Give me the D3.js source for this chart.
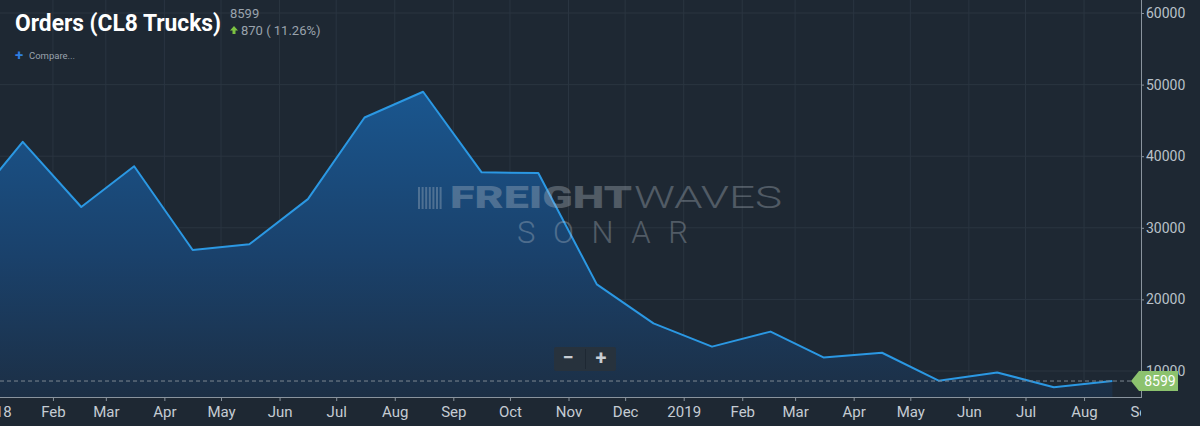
<!DOCTYPE html>
<html>
<head>
<meta charset="utf-8">
<script src="https://cdn.jsdelivr.net/npm/d3@7"></script>
<style>
  html, body { margin: 0; padding: 0; background: #1e2833; }
  svg { display: block; }
  text { font-family: Roboto, "Liberation Sans", Arial, sans-serif; }
</style>
</head>
<body>
<svg id="chart" width="1200" height="426"></svg>
<script>
// ---- data ----
const months = ["2017-12","2018-01","2018-02","2018-03","2018-04","2018-05","2018-06","2018-07","2018-08","2018-09","2018-10","2018-11","2018-12","2019-01","2019-02","2019-03","2019-04","2019-05","2019-06","2019-07","2019-08"];
const orders = [32000, 42000, 32900, 38600, 26900, 27700, 34000, 45400, 49000, 37750, 37650, 22100, 16650, 13400, 15500, 11900, 12550, 8650, 9800, 7729, 8599];
const yTicks = [10000, 20000, 30000, 40000, 50000, 60000];
const titleText = "Orders (CL8 Trucks)";
const lastValue = 8599;
const changeText = "870 ( 11.26%)";

// ---- layout ----
const W = 1200, H = 426;
const plotRight = 1141, plotBottom = 397;
const svg = d3.select("#chart");

const parse = d3.timeParse("%Y-%m-%d");
const data = months.map((m, i) => ({ date: parse(m + "-16"), value: orders[i] }));

const x = d3.scaleTime()
  .domain([new Date(2018, 0, 1), new Date(2019, 8, 1)])
  .range([-5.6, 1142.6]);
const y = d3.scaleLinear().domain([0, 60000]).range([442.6, 13]);

const defs = svg.append("defs");
defs.append("clipPath").attr("id", "plotClip")
  .append("rect").attr("x", 0).attr("y", 0).attr("width", plotRight).attr("height", plotBottom);
defs.append("clipPath").attr("id", "axisClip")
  .append("rect").attr("x", 0).attr("y", plotBottom).attr("width", plotRight).attr("height", H - plotBottom);
const grad = defs.append("linearGradient").attr("id", "areaGrad")
  .attr("gradientUnits", "userSpaceOnUse").attr("x1", 0).attr("y1", y(50000)).attr("x2", 0).attr("y2", plotBottom);
grad.append("stop").attr("offset", "0%").attr("stop-color", "#1a5790");
grad.append("stop").attr("offset", "55%").attr("stop-color", "#1a416b");
grad.append("stop").attr("offset", "100%").attr("stop-color", "#1c2f45");

svg.append("rect").attr("width", W).attr("height", H).attr("fill", "#1e2833");

const plot = svg.append("g").attr("clip-path", "url(#plotClip)");

// gridlines
const monthTicks = d3.timeMonth.range(new Date(2018, 0, 1), new Date(2019, 8, 2));
plot.append("g").selectAll("line").data(monthTicks).join("line")
  .attr("x1", d => x(d)).attr("x2", d => x(d))
  .attr("y1", 0).attr("y2", plotBottom)
  .attr("stroke", "#2a3541").attr("stroke-width", 1);
plot.append("g").selectAll("line").data(yTicks).join("line")
  .attr("x1", 0).attr("x2", plotRight)
  .attr("y1", d => y(d)).attr("y2", d => y(d))
  .attr("stroke", "#2a3541").attr("stroke-width", 1);

// area + line
const area = d3.area().x(d => x(d.date)).y0(plotBottom).y1(d => y(d.value));
const line = d3.line().x(d => x(d.date)).y(d => y(d.value));
plot.append("path").datum(data).attr("d", area).attr("fill", "url(#areaGrad)");

// watermark
const wm = svg.append("g").attr("opacity", 0.33);
const iconX = 418, iconY = 187;
for (let i = 0; i < 7; i++) {
  wm.append("rect").attr("x", iconX + i * 3.6).attr("y", iconY).attr("width", 2).attr("height", 22).attr("fill", "#b9c2cc");
}
wm.append("text").attr("x", 450).attr("y", 208)
  .attr("font-size", 31).attr("font-weight", 900).attr("fill", "#b9c2cc")
  .attr("textLength", 182).attr("lengthAdjust", "spacingAndGlyphs")
  .text("FREIGHT");
wm.append("text").attr("x", 634).attr("y", 208)
  .attr("font-size", 31).attr("font-weight", 300).attr("fill", "#b9c2cc")
  .attr("textLength", 148).attr("lengthAdjust", "spacingAndGlyphs")
  .text("WAVES");
wm.append("text").attr("x", 517).attr("y", 243)
  .attr("font-size", 31).attr("font-weight", 300).attr("fill", "#b9c2cc")
  .attr("textLength", 171).attr("lengthAdjust", "spacing")
  .text("SONAR");

plot.append("path").datum(data).attr("d", line)
  .attr("fill", "none").attr("stroke", "#2b98e3").attr("stroke-width", 2).attr("stroke-linejoin", "round");

// dashed last value line
svg.append("line").attr("x1", 0).attr("x2", 1131)
  .attr("y1", y(lastValue)).attr("y2", y(lastValue))
  .attr("stroke", "#7d8791").attr("stroke-width", 1).attr("stroke-dasharray", "4,3");

// zoom buttons
const zb = svg.append("g");
zb.append("rect").attr("x", 554).attr("y", 347).attr("width", 62).attr("height", 24).attr("rx", 2).attr("fill", "#27323d");
zb.append("line").attr("x1", 585.5).attr("x2", 585.5).attr("y1", 349).attr("y2", 369).attr("stroke", "#1e2833").attr("stroke-width", 1);
zb.append("text").attr("x", 568).attr("y", 364).attr("text-anchor", "middle").attr("font-size", 20).attr("font-weight", 700).attr("fill", "#c7cdd3").text("−");
zb.append("text").attr("x", 601).attr("y", 365).attr("text-anchor", "middle").attr("font-size", 20).attr("font-weight", 700).attr("fill", "#c7cdd3").text("+");

// x axis
const xAxis = d3.axisBottom(x)
  .tickValues(monthTicks)
  .tickSize(4)
  .tickFormat(d => d.getMonth() === 0 ? d3.timeFormat("%Y")(d) : d3.timeFormat("%b")(d));
const gxOuter = svg.append("g").attr("clip-path", "url(#axisClip)");
const gx = gxOuter.append("g").attr("transform", `translate(0,${plotBottom})`).call(xAxis);
gx.select(".domain").remove();
gx.selectAll(".tick line").attr("stroke", "#8a949e");
gx.selectAll(".tick text").attr("fill", "#c5ccd3").attr("font-size", 15)
  .attr("font-family", "Roboto, sans-serif").attr("dy", "1em").attr("y", 5);
svg.append("line").attr("x1", 0).attr("x2", plotRight).attr("y1", plotBottom + 0.5).attr("y2", plotBottom + 0.5)
  .attr("stroke", "#8a949e").attr("stroke-width", 1);

// y axis
const yAxis = d3.axisRight(y).tickValues(yTicks).tickSize(3).tickFormat(d3.format("d"));
const gy = svg.append("g").attr("transform", `translate(${plotRight},0)`).call(yAxis);
gy.select(".domain").remove();
gy.selectAll(".tick line").attr("stroke", "#8a949e");
gy.selectAll(".tick text").attr("fill", "#b9c1c9").attr("font-size", 14)
  .attr("font-family", "Roboto, sans-serif").attr("x", 5);
svg.append("line").attr("x1", plotRight + 0.5).attr("x2", plotRight + 0.5).attr("y1", 0).attr("y2", plotBottom + 1)
  .attr("stroke", "#8a949e").attr("stroke-width", 1);

// last value badge
const by = y(lastValue);
svg.append("path")
  .attr("d", `M1131,${by} L1139,${by - 10} L1178,${by - 10} L1178,${by + 10} L1139,${by + 10} Z`)
  .attr("fill", "#8cc26e");
svg.append("text").attr("x", 1160).attr("y", by + 5).attr("text-anchor", "middle")
  .attr("font-size", 14).attr("fill", "#ffffff").text(d3.format("d")(lastValue));

// title
svg.append("text").attr("x", 15).attr("y", 31)
  .attr("font-size", 23).attr("font-weight", 700).attr("fill", "#ffffff")
  .attr("textLength", 206).attr("lengthAdjust", "spacingAndGlyphs")
  .text(titleText);
svg.append("text").attr("x", 230).attr("y", 18).attr("font-size", 13).attr("fill", "#9aa3ad").text(d3.format("d")(lastValue));
svg.append("path").attr("d", "M234,26 L238,30.5 L235.5,30.5 L235.5,34 L232.5,34 L232.5,30.5 L230,30.5 Z").attr("fill", "#7cc242");
svg.append("text").attr("x", 241).attr("y", 35).attr("font-size", 13).attr("fill", "#9aa3ad").text(changeText);
svg.append("text").attr("x", 19).attr("y", 60).attr("text-anchor", "middle").attr("font-size", 15).attr("font-weight", 700).attr("fill", "#2f7fe0").text("+");
svg.append("text").attr("x", 29).attr("y", 59).attr("font-size", 9.5).attr("fill", "#9aa3ad").text("Compare...");
</script>
</body>
</html>
